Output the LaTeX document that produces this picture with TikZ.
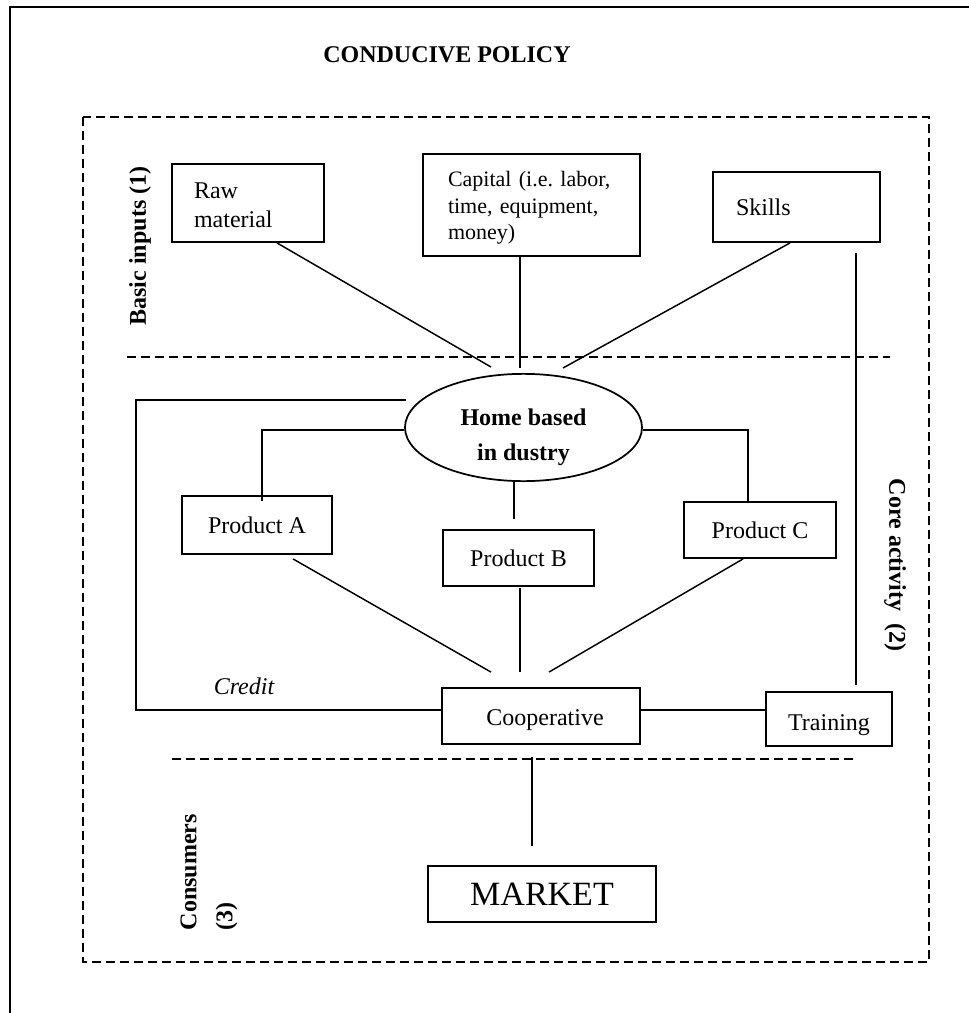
\documentclass[tikz,border=0pt]{standalone}
\usepackage{fontspec}
\setmainfont{Liberation Serif}
\usetikzlibrary{shapes.geometric,calc}
\def\pu{0.75pt}
\tikzset{
  box/.style={draw, line width=1.4pt, rectangle, inner sep=0pt},
  conn/.style={line width=1.1pt},
  dsh/.style={line width=1.4pt, dash pattern=on 6.5pt off 4pt},
  lbl/.style={font=\bfseries\fontsize{18}{22}\selectfont, inner sep=0pt},
  body/.style={font=\fontsize{18}{21.75}\selectfont},
}
\begin{document}
\begin{tikzpicture}[x=0.75pt, y=-0.75pt]
\useasboundingbox (0,0) rectangle (969,1013);
% outer frame
\draw[line width=1.4pt] (10,1013) -- (10,7) -- (969,7);
% dashed frame and separators
\draw[dsh] (83,117) rectangle (929,962);
\draw[dsh] (127,357) -- (890,357);
\draw[dsh] (172,759) -- (855,759);
% title and side labels
\node[lbl] (title) at (447,55) {CONDUCIVE POLICY};
\node[lbl, rotate=90] (basic) at (140,246) {Basic inputs (1)};
\node[lbl, rotate=-90] (core) at (895,565) {Core activity\ \ (2)};
\node[lbl, font=\bfseries\fontsize{18}{27}\selectfont, rotate=90, align=left] (cons) at (209,872) {Consumers\\(3)};
% input boxes
\node[box, body, minimum width=152*\pu, minimum height=78*\pu, text width=108*\pu, inner xsep=22*\pu, align=left] (raw) at (248,203) {\rule{0pt}{15pt}Raw\\material};
\node[box, font=\fontsize{16.5}{20}\selectfont, minimum width=217*\pu, minimum height=102*\pu, text width=167*\pu, inner xsep=25*\pu, align=left] (cap) at (531.5,205) {\rule{0pt}{16pt}Capital (i.e.\ labor,\\time, equipment,\\money)};
\node[box, body, minimum width=167*\pu, minimum height=70*\pu, text width=121*\pu, inner xsep=23*\pu, align=left] (skl) at (796.5,207) {Skills};
% core
\node[draw, ellipse, line width=1.3pt, inner sep=0pt, minimum width=237*\pu, minimum height=105*\pu, align=center, font=\bfseries\fontsize{18}{26}\selectfont] (hbi) at (523.5,427.5) {\rule{0pt}{27pt}Home based\\in dustry};
\node[box, body, minimum width=150*\pu, minimum height=58*\pu] (pa) at (257,525) {Product A};
\node[box, body, minimum width=151*\pu, minimum height=56*\pu] (pb) at (518.5,558) {Product B};
\node[box, body, minimum width=152*\pu, minimum height=56*\pu] (pc) at (760,530) {Product C};
\node[box, body, minimum width=198*\pu, minimum height=56*\pu, text height=18pt, text depth=4pt] (coop) at (541,716) {\hspace{6pt}Cooperative};
\node[box, body, minimum width=126*\pu, minimum height=54*\pu, text height=21pt, text depth=4pt] (trn) at (829,719) {Training};
\node[box, font=\fontsize{25.5}{30}\selectfont, minimum width=228*\pu, minimum height=56*\pu] (market) at (542,894) {MARKET};
\node[font=\itshape\fontsize{18}{21.75}\selectfont, inner sep=0pt] (credit) at (244,686) {Credit};
% connectors
\draw[conn] ($(raw.south)+(29,0)$) -- ($(hbi.north)+(-32.5,-6)$);
\draw[conn] ($(cap.south)+(-11.5,0)$) -- ($(hbi.north)+(-3.5,-5)$);
\draw[conn] ($(skl.south)+(-6.5,0)$) -- ($(hbi.north)+(39.5,-5)$);
\coordinate (sktop) at (856,253);
\draw[conn] (sktop) -- ($(trn.north)+(27,-6)$);
\coordinate (crd) at (406,400);
\draw[conn] (crd) -- ++(-270,0) |- ($(coop.west)+(0,-6)$);
\draw[conn] ($(hbi.west)+(0,2.5)$) -| ($(pa.north)+(5,6)$);
\draw[conn] ($(hbi.east)+(0,2.5)$) -| ($(pc.north)+(-12,0)$);
\draw[conn] ($(hbi.south)+(-9.5,0)$) -- ($(pb.north)+(-4.5,-10)$);
\draw[conn] ($(pa.south)+(36,4)$) -- ($(coop.north)+(-50,-15)$);
\draw[conn] ($(pb.south)+(1.5,1)$) -- ($(coop.north)+(-21,-15)$);
\draw[conn] ($(pc.south)+(-17,0)$) -- ($(coop.north)+(8,-15)$);
\coordinate (ce) at ($(coop.east)+(0,-6)$);
\draw[conn] (ce) -- (ce -| trn.west);
\draw[conn] ($(coop.south)+(-9,12)$) -- ($(market.north)+(-10,-19)$);
\end{tikzpicture}
\end{document}
